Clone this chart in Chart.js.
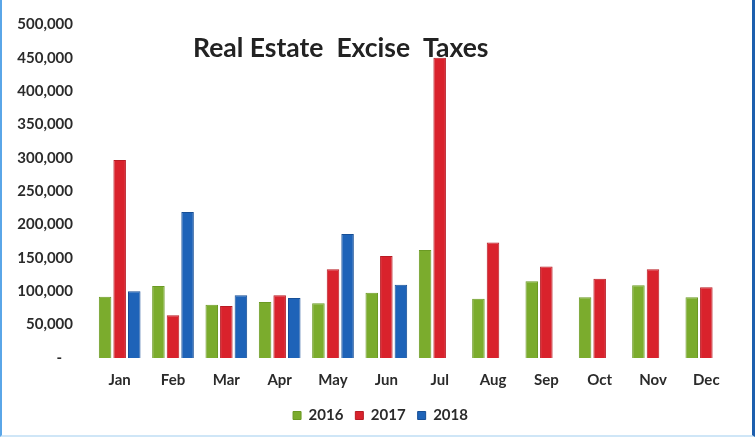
<!DOCTYPE html>
<html>
<head>
<meta charset="utf-8">
<script src="https://cdn.jsdelivr.net/npm/chart.js@4"></script>
<style>
  html, body { margin: 0; padding: 0; background: #fff; }
  #wrap { position: relative; width: 755px; height: 437px; }
  #frame {
    position: absolute; left: 0; top: 0; width: 755px; height: 437px;
    box-sizing: border-box; pointer-events: none;
    border-left: 2px solid #5aa6e8;
    border-right: 3px solid #1d5fae;
    border-bottom: 2px solid #cfe6f7;
  }
</style>
</head>
<body>
<div id="wrap">
  <canvas id="exciseChart" width="755" height="437"></canvas>
  <div id="frame"></div>
</div>
<script>
var months = ['Jan', 'Feb', 'Mar', 'Apr', 'May', 'Jun', 'Jul', 'Aug', 'Sep', 'Oct', 'Nov', 'Dec'];
var taxes2016 = [92000, 108000, 80000, 84000, 82000, 98000, 162000, 89000, 115000, 91000, 109000, 91000];
var taxes2017 = [297000, 64000, 78000, 94000, 133000, 153000, 450000, 173000, 137000, 119000, 133000, 106000];
var taxes2018 = [100000, 219000, 94000, 90000, 186000, 110000, null, null, null, null, null, null];
var yTicks = [0, 50000, 100000, 150000, 200000, 250000, 300000, 350000, 400000, 450000, 500000];

var fontFamily = 'Lato, "Open Sans", sans-serif';
var textColor = '#2b2b2b';

// title sits inside the plot, over the bars; legend nudged right a bit
var titlePlugin = {
    id: 'insideTitle',
    afterLayout: function (chart) {
        chart.legend.left += 14;
        chart.legend.right += 14;
    },
    afterDraw: function (chart) {
        var c = chart.ctx;
        var area = chart.chartArea;
        c.save();
        c.font = 'bold 26.5px ' + fontFamily;
        c.fillStyle = '#222';
        c.textAlign = 'left';
        c.textBaseline = 'alphabetic';
        c.fillText('Real Estate  Excise  Taxes', area.left + 100, area.top + 32);
        c.restore();
    }
};

var exciseConfig = {
    type: 'bar',
    data: {
        labels: months,
        datasets: [{
            label: '2016',
            data: taxes2016,
            backgroundColor: '#7bac2d',
            borderColor: '#6b9a23',
            borderWidth: 1
        }, {
            label: '2017',
            data: taxes2017,
            backgroundColor: '#d9222c',
            borderColor: '#b81b23',
            borderWidth: 1
        }, {
            label: '2018',
            data: taxes2018,
            backgroundColor: '#1e63b8',
            borderColor: '#174f96',
            borderWidth: 1
        }]
    },
    options: {
        responsive: false,
        animation: false,
        devicePixelRatio: 1,
        layout: {
            padding: { left: 0, right: 22, top: 24.5, bottom: 4 }
        },
        datasets: {
            bar: {
                categoryPercentage: 0.82,
                barPercentage: 0.86
            }
        },
        plugins: {
            legend: {
                position: 'bottom',
                labels: {
                    boxWidth: 8,
                    boxHeight: 8,
                    padding: 12,
                    color: textColor,
                    font: { family: fontFamily, size: 15, weight: 'bold' }
                }
            },
            title: { display: false },
            tooltip: { enabled: false }
        },
        scales: {
            x: {
                grid: { display: false, drawTicks: false },
                border: { display: false },
                ticks: {
                    padding: 13,
                    color: textColor,
                    font: { family: fontFamily, size: 15, weight: 'bold' }
                },
                afterFit: function (scale) { scale.height = 38; }
            },
            y: {
                min: 0,
                max: 500000,
                grid: { display: false, drawTicks: false },
                border: { display: false },
                afterBuildTicks: function (scale) {
                    scale.ticks = yTicks.map(function (v) { return { value: v }; });
                },
                ticks: {
                    padding: 20,
                    color: textColor,
                    font: { family: fontFamily, size: 15, weight: 'bold' },
                    callback: function (value) {
                        return value === 0 ? '-   ' : value.toLocaleString('en-US');
                    }
                },
                afterFit: function (scale) {
                    scale.width = 93;
                    scale.paddingTop = 8;
                    scale.paddingBottom = 8;
                }
            }
        }
    },
    plugins: [titlePlugin]
};

window.exciseChart = new Chart(document.getElementById('exciseChart').getContext('2d'), exciseConfig);
</script>
</body>
</html>
